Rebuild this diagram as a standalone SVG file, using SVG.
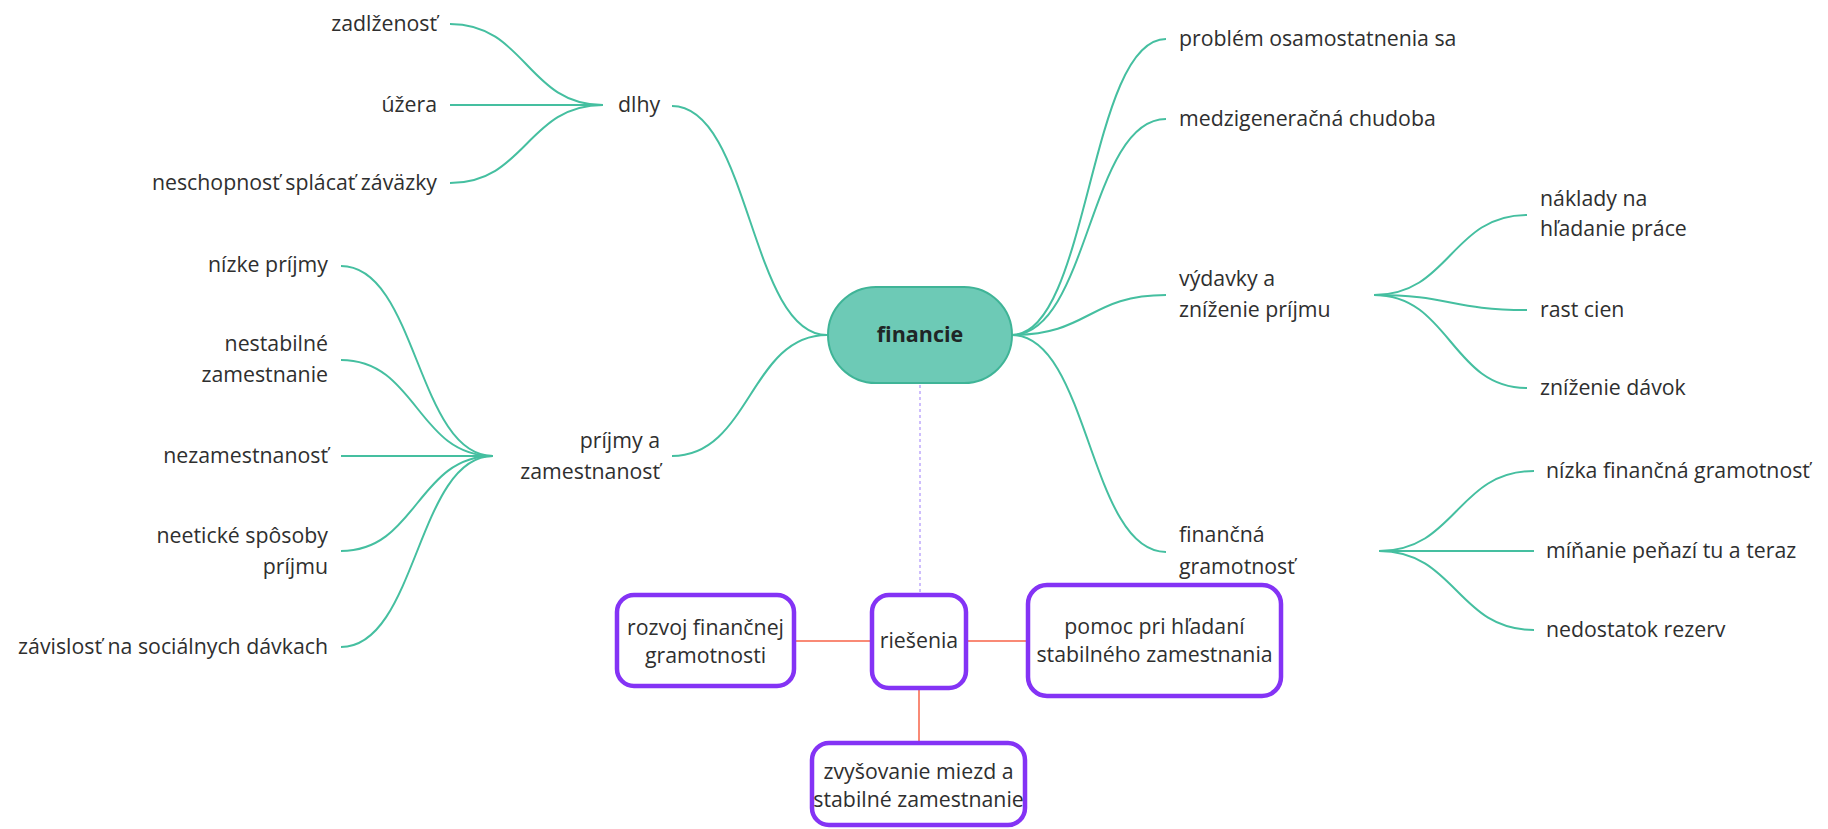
<svg xmlns="http://www.w3.org/2000/svg" width="1828" height="829" viewBox="0 0 1828 829">
<style>
text{font-family:"Open Sans","Noto Sans","Liberation Sans",sans-serif;font-size:21.3px;fill:#2f2f2f}
.end{text-anchor:end}
.mid{text-anchor:middle}
.teal{fill:none;stroke:#45bfa0;stroke-width:2}
.orange{fill:none;stroke:#f98a76;stroke-width:2}
.dash{fill:none;stroke:#c2aefc;stroke-width:1.6;stroke-dasharray:3 3}
.box{fill:#ffffff;stroke:#8433f5;stroke-width:4.5}
.root{fill:#6dcab6;stroke:#3fb497;stroke-width:2}
.bold{font-weight:bold;font-size:21.5px;fill:#1f2626}
</style>
<rect width="1828" height="829" fill="#ffffff"/>
<g id="connectors">
  <path class="teal" d="M450,24 C526,24 527,105 603,105"/>
  <path class="teal" d="M450,105 L603,105"/>
  <path class="teal" d="M450,183 C526,183 527,105 603,105"/>
  <path class="teal" d="M672,106 C750,106 750,335 827,335"/>
  <path class="teal" d="M341,266 C417,266 417,456 493,456"/>
  <path class="teal" d="M341,360 C417,360 417,456 493,456"/>
  <path class="teal" d="M341,456 L493,456"/>
  <path class="teal" d="M341,551 C417,551 417,456 493,456"/>
  <path class="teal" d="M341,647 C417,647 417,456 493,456"/>
  <path class="teal" d="M672,456 C750,456 750,335 827,335"/>
  <path class="teal" d="M1012,335 C1089,335 1089,39 1166,39"/>
  <path class="teal" d="M1012,335 C1089,335 1089,119 1166,119"/>
  <path class="teal" d="M1012,335 C1089,335 1089,295 1166,295"/>
  <path class="teal" d="M1012,335 C1089,335 1089,552 1166,552"/>
  <path class="teal" d="M1374,295 C1450,295 1451,215 1527,215"/>
  <path class="teal" d="M1374,295 C1450,295 1451,310 1527,310"/>
  <path class="teal" d="M1374,295 C1450,295 1451,388 1527,388"/>
  <path class="teal" d="M1379,551 C1456,551 1457,471 1534,471"/>
  <path class="teal" d="M1379,551 L1534,551"/>
  <path class="teal" d="M1379,551 C1456,551 1457,630 1534,630"/>
  <path class="dash" d="M920,385 V593"/>
  <path class="orange" d="M796,641 H870"/>
  <path class="orange" d="M968,641 H1026"/>
  <path class="orange" d="M919,690 V741"/>
</g>
<g id="financie">
  <rect class="root" x="828" y="287" width="184" height="96" rx="48"/>
  <text class="bold mid" x="920" y="342">financie</text>
</g>
<g id="dlhy"><text x="618" y="112">dlhy</text></g>
<g id="zadlzenost"><text class="end" x="437" y="31">zadlženosť</text></g>
<g id="uzera"><text class="end" x="437" y="112">úžera</text></g>
<g id="neschopnost"><text class="end" x="437" y="190">neschopnosť splácať záväzky</text></g>
<g id="prijmy"><text class="end" x="660" y="448">príjmy a</text><text class="end" x="660" y="479">zamestnanosť</text></g>
<g id="nizke"><text class="end" x="328" y="272">nízke príjmy</text></g>
<g id="nestabilne"><text class="end" x="328" y="351">nestabilné</text><text class="end" x="328" y="382">zamestnanie</text></g>
<g id="nezamestnanost"><text class="end" x="328" y="463">nezamestnanosť</text></g>
<g id="neeticke"><text class="end" x="328" y="543">neetické spôsoby</text><text class="end" x="328" y="574">príjmu</text></g>
<g id="zavislost"><text class="end" x="328" y="654">závislosť na sociálnych dávkach</text></g>
<g id="problem"><text x="1179" y="46">problém osamostatnenia sa</text></g>
<g id="medzigeneracna"><text x="1179" y="126">medzigeneračná chudoba</text></g>
<g id="vydavky"><text x="1179" y="286">výdavky a</text><text x="1179" y="317">zníženie príjmu</text></g>
<g id="naklady"><text x="1540" y="206">náklady na</text><text x="1540" y="236">hľadanie práce</text></g>
<g id="rast"><text x="1540" y="317">rast cien</text></g>
<g id="znizenie"><text x="1540" y="395">zníženie dávok</text></g>
<g id="financna"><text x="1179" y="542">finančná</text><text x="1179" y="574">gramotnosť</text></g>
<g id="nizka"><text x="1546" y="478">nízka finančná gramotnosť</text></g>
<g id="minanie"><text x="1546" y="558">míňanie peňazí tu a teraz</text></g>
<g id="nedostatok"><text x="1546" y="637">nedostatok rezerv</text></g>
<g id="riesenia">
  <rect class="box" x="872" y="595" width="94" height="93" rx="17"/>
  <text class="mid" x="919" y="648">riešenia</text>
</g>
<g id="rozvoj">
  <rect class="box" x="617" y="595" width="177" height="91" rx="17"/>
  <text class="mid" x="705.5" y="635">rozvoj finančnej</text>
  <text class="mid" x="705.5" y="663">gramotnosti</text>
</g>
<g id="pomoc">
  <rect class="box" x="1028" y="585" width="253" height="111" rx="19"/>
  <text class="mid" x="1154.5" y="634">pomoc pri hľadaní</text>
  <text class="mid" x="1154.5" y="662">stabilného zamestnania</text>
</g>
<g id="zvysovanie">
  <rect class="box" x="812" y="743" width="213" height="82" rx="17"/>
  <text class="mid" x="918.5" y="779">zvyšovanie miezd a</text>
  <text class="mid" x="918.5" y="807">stabilné zamestnanie</text>
</g>
</svg>
